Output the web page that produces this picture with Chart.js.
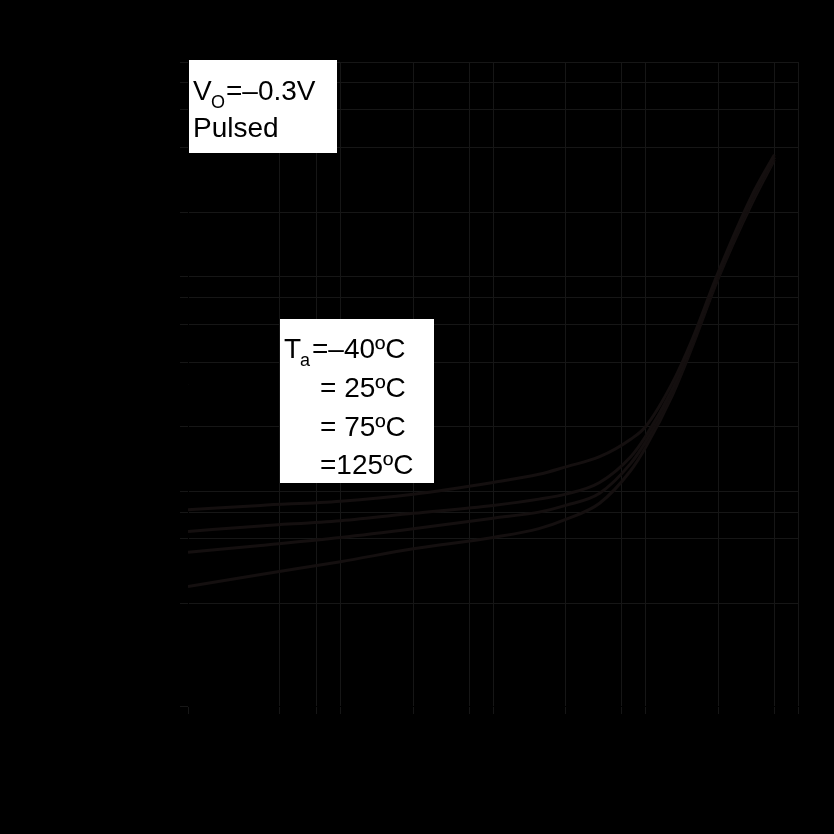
<!DOCTYPE html>
<html><head><meta charset="utf-8">
<script src="https://cdn.jsdelivr.net/npm/chart.js@4/dist/chart.umd.min.js"></script>
<style>html,body{margin:0;background:#000}#w{width:834px;height:834px}</style>
</head><body><div id="w"><canvas id="c"></canvas></div>
<script>
const xVals = [0.01, 0.03, 0.1, 0.3, 1, 2, 3, 5, 8, 10, 15, 20, 30, 50, 70];
const sTop  = [0.82, 0.86, 0.90, 0.97, 1.1, 1.2, 1.3, 1.45, 1.75, 2.0, 3.2, 5.0, 10.5, 24, 37];
const s2    = [0.65, 0.69, 0.73, 0.79, 0.86, 0.92, 0.97, 1.1, 1.45, 1.8, 3.0, 4.8, 10.2, 23, 36];
const s3    = [0.52, 0.56, 0.61, 0.67, 0.75, 0.8, 0.86, 0.98, 1.35, 1.7, 2.9, 4.7, 10, 23, 36];
const s4    = [0.36, 0.41, 0.47, 0.54, 0.61, 0.67, 0.74, 0.88, 1.25, 1.6, 2.8, 4.6, 9.8, 22, 35];
const seriesNames = ["Ta=-40ºC", "Ta=25ºC", "Ta=75ºC", "Ta=125ºC"];
const xTicks = [0.01, 0.1, 1, 10, 100];
const yTicks = [0.1, 1, 10, 100];
const allS = [sTop, s2, s3, s4];

const boxes = {
  id: 'boxes',
  afterDatasetsDraw(ch) {
    const c = ch.ctx; c.save();
    c.fillStyle = '#fff';
    c.fillRect(189, 60, 148, 93);
    c.fillRect(280, 319, 154, 164);
    c.fillStyle = '#000'; c.font = '28px "Liberation Sans", Arial';
    c.textBaseline = 'alphabetic';
    c.fillText('V', 193, 100);
    c.font = '18px "Liberation Sans", Arial'; c.fillText('O', 211, 108);
    c.font = '28px "Liberation Sans", Arial'; c.fillText('=\u20130.3V', 226, 100);
    c.fillText('Pulsed', 193, 137);
    c.fillText('T', 284, 358);
    c.font = '18px "Liberation Sans", Arial'; c.fillText('a', 300, 366);
    c.font = '28px "Liberation Sans", Arial';
    c.fillText('=\u201340ºC', 312, 358);
    c.fillText('= 25ºC', 320, 397);
    c.fillText('= 75ºC', 320, 436);
    c.fillText('=125ºC', 320, 474);
    c.restore();
  }
};

new Chart(document.getElementById('c'), {
  type: 'line',
  data: {
    datasets: allS.map((s, i) => ({
      label: seriesNames[i],
      data: xVals.map((x, j) => ({x, y: s[j]})),
      borderColor: '#140f0f', borderWidth: 3, pointRadius: 0, tension: 0.4, cubicInterpolationMode: 'monotone'
    }))
  },
  options: {
    responsive: true, maintainAspectRatio: false, animation: false,
    layout: {padding: {top: 62, right: 36, left: 0, bottom: 0}},
    plugins: {legend: {display: false}, tooltip: {enabled: false}},
    scales: {
      x: {type: 'logarithmic', min: 0.01, max: 100,
        afterFit(s) { s.height = 128; },
        afterBuildTicks(s) { s.ticks = s.ticks.filter(t => t.value >= 0.01); },
        grid: {color: '#161616', lineWidth: 1},
        border: {color: '#000'},
        ticks: {color: '#000', font: {size: 24, family: 'Liberation Sans'},
          callback: v => xTicks.includes(+v.toPrecision(3)) ? '-' + (+v.toPrecision(3)) : ''}
      },
      y: {type: 'logarithmic', min: 0.1, max: 100,
        afterFit(s) { s.width = 188; },
        grid: {color: '#161616', lineWidth: 1},
        border: {color: '#000'},
        ticks: {color: '#000', font: {size: 24, family: 'Liberation Sans'},
          callback: v => yTicks.includes(+v.toPrecision(3)) ? '-' + (+v.toPrecision(3)) : ''}
      }
    }
  },
  plugins: [boxes]
});
</script></body></html>
